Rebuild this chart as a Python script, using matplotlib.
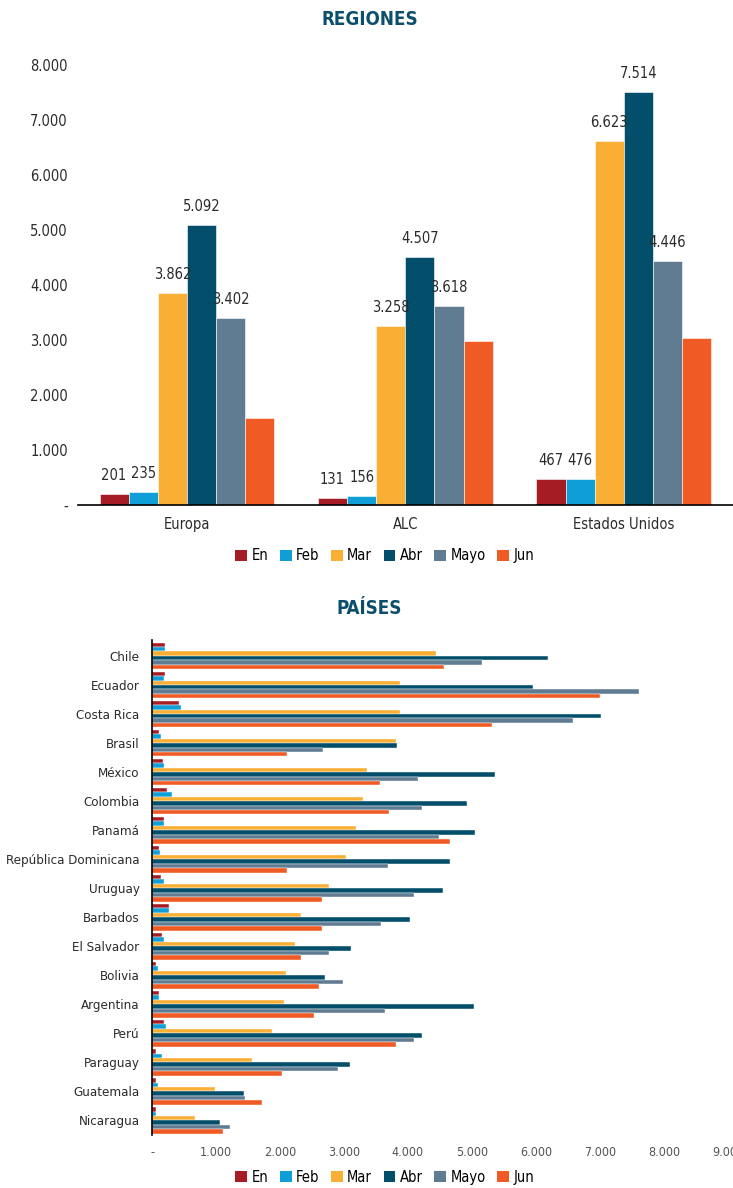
import numpy as np
import matplotlib.pyplot as plt
from matplotlib.patches import Patch

plt.rcParams['font.family'] = ['DejaVu Sans']
plt.rcParams['font.stretch'] = 'condensed'

# Data
meses = ["En", "Feb", "Mar", "Abr", "Mayo", "Jun"]
colores = ["#A51C24", "#0F9ED5", "#F9AE34", "#034F6B", "#607C93", "#F05A24"]

regiones = ["Europa", "ALC", "Estados Unidos"]
reg_en = [201, 131, 467]
reg_feb = [235, 156, 476]
reg_mar = [3862, 3258, 6623]
reg_abr = [5092, 4507, 7514]
reg_mayo = [3402, 3618, 4446]
reg_jun = [1590, 2990, 3040]

paises = ["Chile", "Ecuador", "Costa Rica", "Brasil", "México", "Colombia", "Panamá",
          "República Dominicana", "Uruguay", "Barbados", "El Salvador", "Bolivia",
          "Argentina", "Perú", "Paraguay", "Guatemala", "Nicaragua"]
pai_en = [210, 210, 416, 110, 168, 234, 182, 110, 139, 263, 160, 58, 110, 190, 58, 58, 58]
pai_feb = [205, 190, 460, 139, 190, 307, 182, 131, 182, 263, 190, 88, 110, 212, 160, 88, 58]
pai_mar = [4440, 3883, 3883, 3810, 3358, 3292, 3190, 3029, 2766, 2336, 2234, 2088, 2058, 1869, 1562, 985, 664]
pai_abr = [6182, 5956, 7015, 3832, 5358, 4927, 5051, 4664, 4540, 4036, 3109, 2708, 5036, 4212, 3088, 1431, 1066]
pai_mayo = [5161, 7606, 6584, 2679, 4161, 4212, 4482, 3686, 4088, 3584, 2759, 2985, 3635, 4088, 2912, 1460, 1212]
pai_jun = [4562, 7007, 5307, 2102, 3562, 3708, 4664, 2109, 2657, 2657, 2336, 2606, 2533, 3810, 2036, 1715, 1109]


def fmt(v, pos=None):
    if v == 0:
        return "-"
    return f"{int(v):,}".replace(",", ".")


title_color = "#0B4F6C"
text_color = "#2b2b2b"

fig = plt.figure(figsize=(7.33, 11.88), dpi=100)

# Top chart: regiones
ax1 = fig.add_axes([0.106, 0.575, 0.894, 0.370])
reg_series = [reg_en, reg_feb, reg_mar, reg_abr, reg_mayo, reg_jun]
x = np.arange(len(regiones))
w = 0.8 / 6
for i, (vals, c) in enumerate(zip(reg_series, colores)):
    bars = ax1.bar(x + (i - 2.5) * w, vals, width=w, color=c, edgecolor="white", linewidth=0.4)
    if i < 5:
        ax1.bar_label(bars, labels=[fmt(v) for v in vals], padding=8,
                      fontsize=10.5, color=text_color, fontweight="medium")

ax1.set_xlim(-0.5, 2.5)
ax1.set_ylim(0, 8000)
ax1.set_yticks(np.arange(0, 8001, 1000))
ax1.yaxis.set_major_formatter(plt.FuncFormatter(fmt))
ax1.set_xticks(x)
ax1.set_xticklabels(regiones)
ax1.tick_params(axis="both", length=0, labelsize=10.5, labelcolor=text_color)
ax1.tick_params(axis="x", pad=9)
ax1.tick_params(axis="y", pad=7)
for s in ["top", "right", "left"]:
    ax1.spines[s].set_visible(False)
ax1.spines["bottom"].set_linewidth(1.2)

fig.text(0.505, 0.984, "REGIONES", ha="center", va="center",
         fontsize=13.5, fontweight="bold", color=title_color)

handles = [Patch(facecolor=c, label=m) for m, c in zip(meses, colores)]
fig.legend(handles=handles, loc="center", bbox_to_anchor=(0.525, 0.532), ncol=6,
           frameon=False, fontsize=10.5, handlelength=0.8, handleheight=0.8,
           handletextpad=0.3, columnspacing=0.8)

# Bottom chart: paises
ax2 = fig.add_axes([0.2074, 0.0446, 0.7856, 0.4167])
pai_series = [pai_en, pai_feb, pai_mar, pai_abr, pai_mayo, pai_jun]
y = np.arange(len(paises))
h = 0.92 / 6
for i, (vals, c) in enumerate(zip(pai_series, colores)):
    ax2.barh(y + (i - 2.5) * h, vals, height=h, color=c, edgecolor="white", linewidth=0.3)

ax2.set_ylim(16.5, -0.55)
ax2.set_xlim(0, 9000)
ax2.set_xticks(np.arange(0, 9001, 1000))
ax2.xaxis.set_major_formatter(plt.FuncFormatter(fmt))
ax2.set_yticks(y)
ax2.set_yticklabels(paises)
ax2.tick_params(axis="both", length=0, labelsize=9.5, labelcolor=text_color)
ax2.tick_params(axis="y", pad=9)
ax2.tick_params(axis="x", pad=8, labelcolor="#555555", labelsize=9)
for s in ["top", "right", "bottom"]:
    ax2.spines[s].set_visible(False)
ax2.spines["left"].set_linewidth(1.2)

fig.text(0.503, 0.488, "PAÍSES", ha="center", va="center",
         fontsize=13.5, fontweight="bold", color=title_color)

fig.legend(handles=handles, loc="center", bbox_to_anchor=(0.525, 0.009), ncol=6,
           frameon=False, fontsize=10.5, handlelength=0.8, handleheight=0.8,
           handletextpad=0.3, columnspacing=0.8)

fig.savefig("out.png", dpi=100)
